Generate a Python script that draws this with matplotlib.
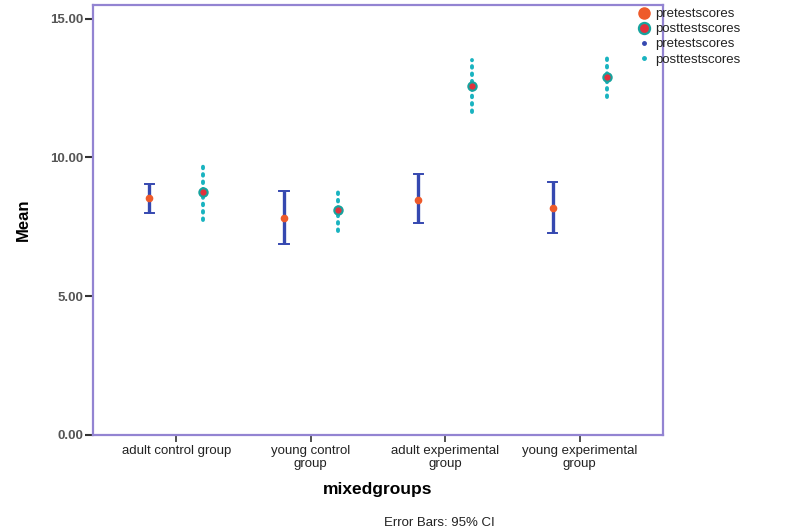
import matplotlib
matplotlib.use("Agg")
import matplotlib.pyplot as plt
from matplotlib.lines import Line2D

plt.rcParams['font.family'] = ['Liberation Sans', 'DejaVu Sans']

groups = ['adult control group', 'young control\ngroup',
          'adult experimental\ngroup', 'young experimental\ngroup']

# means and 95% CI bounds
pre_mean = [8.52, 7.83, 8.48, 8.16]
pre_low = [8.01, 6.86, 7.62, 7.26]
pre_high = [9.03, 8.77, 9.39, 9.10]

post_mean = [8.74, 8.09, 12.56, 12.89]
post_low = [7.76, 7.36, 11.62, 12.17]
post_high = [9.75, 8.77, 13.50, 13.60]

frame_col = '#9384d2'
pre_line = '#3548b0'
pre_dot = '#ee5a2a'
post_line = '#19b3c0'
post_dot = '#e3303c'
post_edge = '#17a39e'

fig = plt.figure(figsize=(7.95, 5.29), dpi=100)
ax = fig.add_axes([0.117, 0.178, 0.717, 0.813])

x = list(range(len(groups)))
off = 0.2
for i in x:
    xp = i - off
    ax.plot([xp, xp], [pre_low[i], pre_high[i]], color=pre_line, lw=2.4, solid_capstyle='butt')
    ax.plot([xp - 0.035, xp + 0.035], [pre_low[i]] * 2, color=pre_line, lw=1.4)
    ax.plot([xp - 0.035, xp + 0.035], [pre_high[i]] * 2, color=pre_line, lw=1.4)
    ax.plot(xp, pre_mean[i], 'o', color=pre_dot, ms=4.5, mec=pre_dot, zorder=3)

    xq = i + off
    ax.plot([xq, xq], [post_low[i], post_high[i]], color=post_line, lw=2.8,
            linestyle=(0, (0.4, 1.5)), dash_capstyle='round')
    ax.plot(xq, post_mean[i], 'o', color=post_dot, ms=6, mec=post_edge, mew=1.5, zorder=3)

ax.set_xlim(-0.62, 3.62)
ax.set_ylim(0, 15.5)
ax.set_yticks([0, 5, 10, 15])
ax.set_yticklabels(['%.2f' % v for v in [0, 5, 10, 15]], fontsize=9.5, color='#555555', fontweight='bold')
ax.set_xticks(x)
ax.set_xticklabels(groups, fontsize=9.5, color='#222222', linespacing=1.15)
ax.tick_params(axis='y', length=6, width=1.5, color='#333333', pad=1)
ax.tick_params(axis='x', length=5, width=1.2, color='#333333', pad=2)
for s in ax.spines.values():
    s.set_color(frame_col)
    s.set_linewidth(1.6)

ax.set_ylabel('Mean', fontsize=12, fontweight='bold', labelpad=14)
ax.set_xlabel('mixedgroups', fontsize=12.5, fontweight='bold', labelpad=9)
fig.text(0.553, 0.006, 'Error Bars: 95% CI', fontsize=9.5, ha='center', color='#222222')

handles = [
    Line2D([], [], marker='o', ls='none', color=pre_dot, mec=pre_dot, ms=8),
    Line2D([], [], marker='o', ls='none', color=post_dot, mec=post_edge, mew=1.6, ms=8),
    Line2D([], [], marker='o', ls='none', color=pre_line, ms=2.5),
    Line2D([], [], marker='o', ls='none', color=post_line, ms=2.5),
]
labels = ['pretestscores', 'posttestscores', 'pretestscores', 'posttestscores']
fig.legend(handles, labels, loc='upper left', bbox_to_anchor=(0.797, 0.995), frameon=False,
           handlelength=0.8, handletextpad=0.4, labelspacing=0.22,
           borderaxespad=0, prop={'size': 9.5}, labelcolor='#222222')

fig.savefig('out.png', dpi=100)
